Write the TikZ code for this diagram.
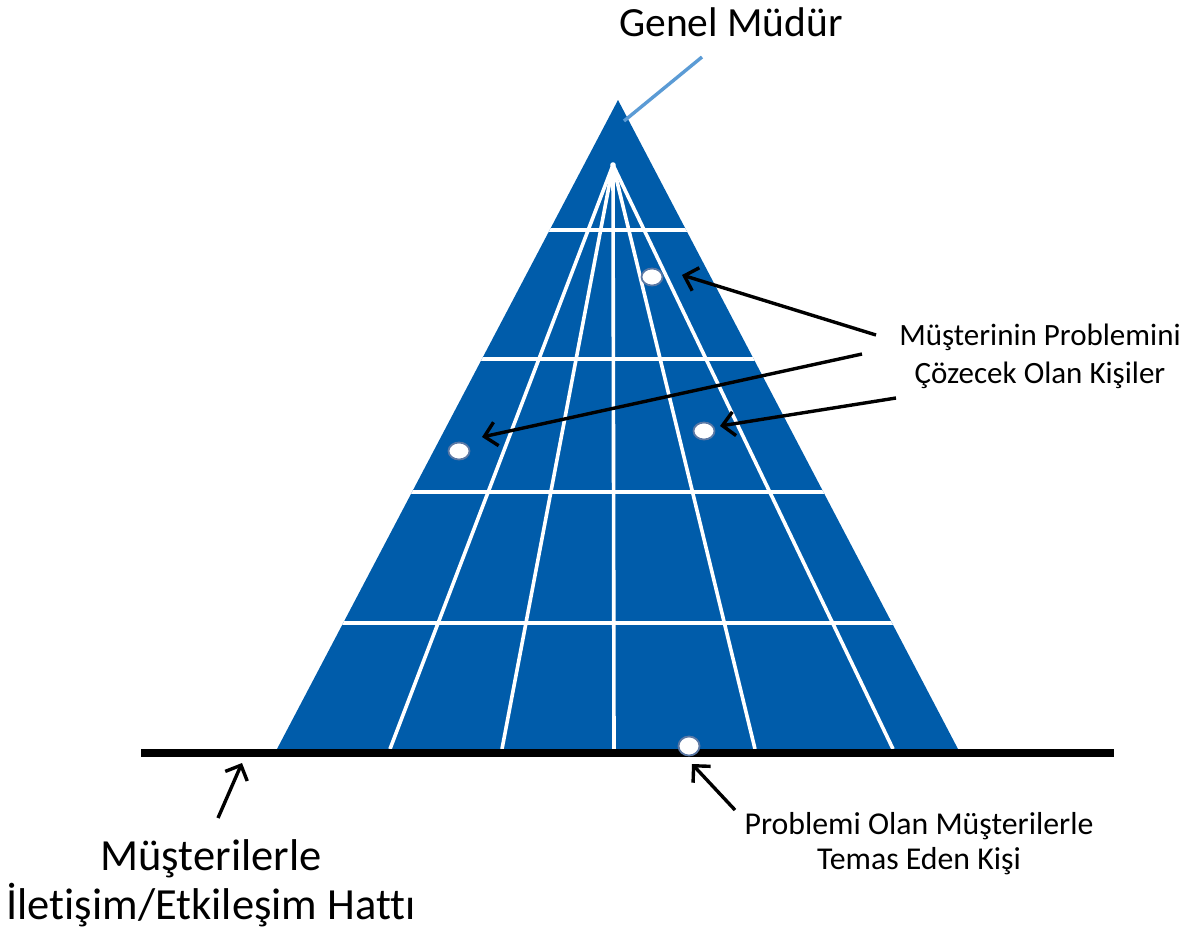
\documentclass[tikz,border=0pt]{standalone}
\usepackage{fontspec}
\setmainfont{Carlito}[Ligatures=NoCommon]
\usetikzlibrary{arrows.meta,shapes.geometric}
\definecolor{triblue}{RGB}{0,92,170}
\definecolor{linkblue}{RGB}{91,155,213}
\definecolor{dotedge}{RGB}{90,120,165}
\tikzset{
  gridline/.style={white, line width=3.6pt},
  dotnode/.style={ellipse, draw=dotedge, line width=1.8pt, fill=white, minimum width=21pt, minimum height=17pt, inner sep=0pt},
  pointer/.style={black, line width=3.4pt, -{Straight Barb[length=12pt,width=24pt]}},
  txtnode/.style={align=center, inner sep=0pt, text=black}
}
\begin{document}
\begin{tikzpicture}[x=1pt,y=-1pt]
\useasboundingbox (0,0) rectangle (1192,930);
% triangle
\coordinate (apex) at (618,100);
\coordinate (bl) at (277,749);
\coordinate (br) at (958,749);
\coordinate (hub) at (613,165);
\fill[triblue] (apex) -- (br) -- (bl) -- cycle;
\begin{scope}
  \clip (apex) -- (br) -- (bl) -- cycle;
  \foreach \yy in {230,359,492,623} {
    \draw[gridline] (200,\yy) -- (1000,\yy);
  }
  \foreach \xx in {390,502,614,755,893} {
    \draw[gridline] (hub) -- (\xx,749);
  }
\end{scope}
\fill[white] (hub) circle (2.8pt);
% contact line
\coordinate (lineL) at (141,753);
\coordinate (lineR) at (1114,753);
\draw[black, line width=8pt] (lineL) -- (lineR);
% dots
\node[dotnode] (d1) at (652,277) {};
\node[dotnode] (d2) at (459,451) {};
\node[dotnode] (d3) at (704,431) {};
\node[dotnode, minimum height=19pt] (d4) at (689,746) {};
% texts
\node[txtnode, font=\fontsize{41.5}{49}\selectfont] (gm) at (731,22) {Genel Müdür};
\node[txtnode, font=\fontsize{31}{38}\selectfont] (solve) at (1040,356) {Müşterinin Problemini\\Çözecek Olan Kişiler};
\node[txtnode, font=\fontsize{31.8}{35}\selectfont] (contact) at (919,844) {Problemi Olan Müşterilerle\\Temas Eden Kişi};
\node[txtnode, font=\fontsize{44.5}{49}\selectfont] (linetxt) at (211,883) {Müşterilerle\\İletişim/Etkileşim Hattı};
% leader to top
\coordinate (gmlead) at (702,57);
\coordinate (apexlead) at (624,121);
\draw[linkblue, line width=3.4pt] (gmlead) -- (apexlead);
% arrows
\coordinate (s1) at (876,335);
\coordinate (t1) at (682,275);
\coordinate (s2) at (862,354);
\coordinate (t2) at (482,437);
\coordinate (s3) at (896,398);
\coordinate (t3) at (720,426);
\coordinate (s4) at (735,810);
\coordinate (t4) at (692,764);
\coordinate (s5) at (218,818);
\coordinate (t5) at (242,763);
\draw[pointer] (s1) -- (t1);
\draw[pointer] (s2) -- (t2);
\draw[pointer] (s3) -- (t3);
\draw[pointer] (s4) -- (t4);
\draw[pointer] (s5) -- (t5);
\end{tikzpicture}
\end{document}
